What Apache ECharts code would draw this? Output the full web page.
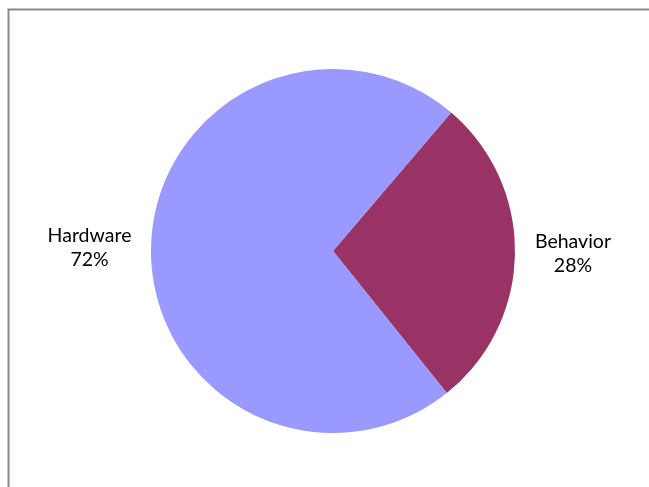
<!DOCTYPE html>
<html>
<head>
<meta charset="utf-8">
<script src="https://cdn.jsdelivr.net/npm/echarts@6/dist/echarts.min.js"></script>
<style>
html,body{margin:0;padding:0;background:#fff;}
#chart{width:649px;height:487px;}
</style>
</head>
<body>
<div id="chart"></div>
<script>
var categories = ['Behavior', 'Hardware'];
var values = [28, 72];
var colors = ['#993366', '#9999FF'];

var chart = echarts.init(document.getElementById('chart'), null, {renderer: 'canvas'});
var data = categories.map(function (c, i) {
  return {name: c, value: values[i], itemStyle: {color: colors[i]}};
});
chart.setOption({
  backgroundColor: '#ffffff',
  animation: false,
  graphic: [{
    type: 'rect',
    shape: {x: 8.5, y: 9.5, width: 700, height: 600},
    style: {fill: 'none', stroke: '#878787', lineWidth: 2},
    silent: true
  }],
  series: [{
    type: 'pie',
    center: [333, 251],
    radius: 182,
    startAngle: 49.5,
    clockwise: true,
    data: data,
    label: {
      show: true,
      position: 'outside',
      formatter: function (p) {
        var s = p.dataIndex === 0 ? 'b' : 'h';
        return '{' + s + '|' + p.name + '}\n{' + s + '|' + Math.round(p.percent) + '%}';
      },
      rich: {
        b: {width: 76, align: 'center', fontFamily: 'Lato', fontSize: 19.5, lineHeight: 24, color: '#000'},
        h: {width: 83, align: 'center', fontFamily: 'Lato', fontSize: 19.5, lineHeight: 24, color: '#000'}
      }
    },
    labelLine: {show: false, length: 8, length2: 7},
    itemStyle: {borderWidth: 0},
    emphasis: {disabled: true}
  }]
});
</script>
</body>
</html>
